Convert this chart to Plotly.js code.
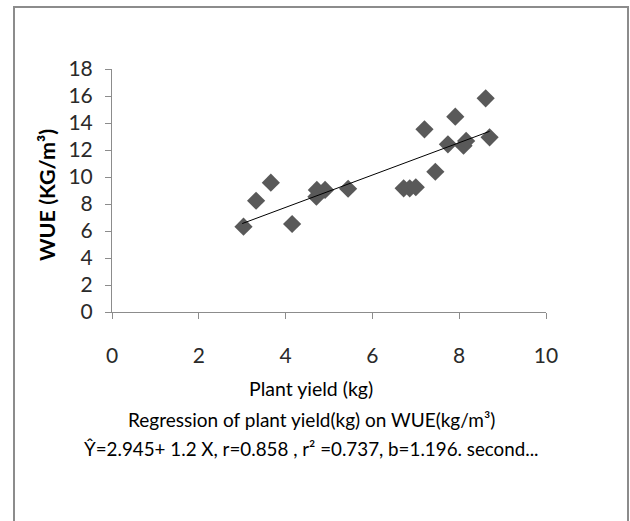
<!DOCTYPE html>
<html>
<head>
<meta charset="utf-8">
<script src="https://cdn.plot.ly/plotly-3.0.1.min.js"></script>
<style>html,body{margin:0;padding:0;background:#fff;}#chart{width:630px;height:521px;}</style>
</head>
<body>
<div id="chart"></div>
<script>
const plantYield = [3.03, 3.32, 3.66, 4.15, 4.71, 4.72, 4.91, 5.44, 6.72, 6.86, 7.00, 7.45, 7.20, 7.74, 7.91, 8.10, 8.16, 8.61, 8.70];
const wue        = [6.32, 8.24, 9.58, 6.52, 8.54, 9.04, 9.04, 9.13, 9.16, 9.16, 9.24, 10.39, 13.53, 12.42, 14.47, 12.32, 12.67, 15.83, 12.94];
const trendX = [3.0, 8.7];
const trendY = [6.55, 13.38];
const xTicks = [0, 2, 4, 6, 8, 10];
const yTicks = [0, 2, 4, 6, 8, 10, 12, 14, 16, 18];
const xTitle = 'Plant yield (kg)';
const yTitle = 'WUE (KG/m³)';
const caption1 = 'Regression of plant yield(kg) on WUE(kg/m³)';
const caption2 = 'Ŷ=2.945+ 1.2 X, r=0.858 , r² =0.737, b=1.196. second...';

const font = 'Lato, "Open Sans", sans-serif';
const L = 112, R = 84, T = 69, B = 209;
const W = 630, H = 521;
const pw = W - L - R, ph = H - T - B;
const px = v => (v - L) / pw;
const py = v => (H - B - v) / ph;

const data = [
  {x: plantYield, y: wue, type: 'scatter', mode: 'markers',
   marker: {symbol: 'diamond', size: 14, color: '#595959'}, hoverinfo: 'skip', showlegend: false},
  {x: trendX, y: trendY, type: 'scatter', mode: 'lines',
   line: {color: '#000', width: 1}, hoverinfo: 'skip', showlegend: false}
];

const layout = {
  width: W, height: H,
  margin: {l: L, r: R, t: T, b: B},
  paper_bgcolor: '#fff', plot_bgcolor: '#fff',
  font: {family: font, color: '#333'},
  xaxis: {range: [0, 10], tickvals: xTicks, ticktext: xTicks.map(String),
    showgrid: false, zeroline: false, showline: true, linecolor: '#8c8c8c', linewidth: 1,
    ticks: 'outside', ticklen: 6, tickcolor: '#8c8c8c', tickfont: {size: 21, family: font, color: '#2a2a2a'},
    ticklabelstandoff: 19, fixedrange: true},
  yaxis: {range: [0, 18], tickvals: yTicks, ticktext: yTicks.map(String),
    showgrid: false, zeroline: false, showline: true, linecolor: '#8c8c8c', linewidth: 1,
    ticks: 'outside', ticklen: 6, tickcolor: '#8c8c8c', tickfont: {size: 21, family: font, color: '#2a2a2a'},
    ticklabelstandoff: 8, fixedrange: true},
  shapes: [
    {type: 'rect', xref: 'paper', yref: 'paper', x0: px(14), x1: px(628), y0: py(530), y1: py(7),
     line: {color: '#8c8c8c', width: 2}, fillcolor: 'rgba(0,0,0,0)', layer: 'below'}
  ],
  annotations: [
    {text: '<b>' + yTitle + '</b>', xref: 'paper', yref: 'paper', x: px(47), y: py(195), textangle: -90,
     showarrow: false, xanchor: 'center', yanchor: 'middle', font: {size: 21.5, family: font, color: '#000'}},
    {text: xTitle, xref: 'paper', yref: 'paper', x: px(311), y: py(388),
     showarrow: false, xanchor: 'center', yanchor: 'middle', font: {size: 19.5, family: font, color: '#000'}},
    {text: caption1, xref: 'paper', yref: 'paper', x: px(311), y: py(419),
     showarrow: false, xanchor: 'center', yanchor: 'middle', font: {size: 19, family: font, color: '#000'}},
    {text: caption2, xref: 'paper', yref: 'paper', x: px(311), y: py(448),
     showarrow: false, xanchor: 'center', yanchor: 'middle', font: {size: 18.8, family: font, color: '#000'}}
  ]
};

Plotly.newPlot('chart', data, layout, {displayModeBar: false, staticPlot: true});
</script>
</body>
</html>
